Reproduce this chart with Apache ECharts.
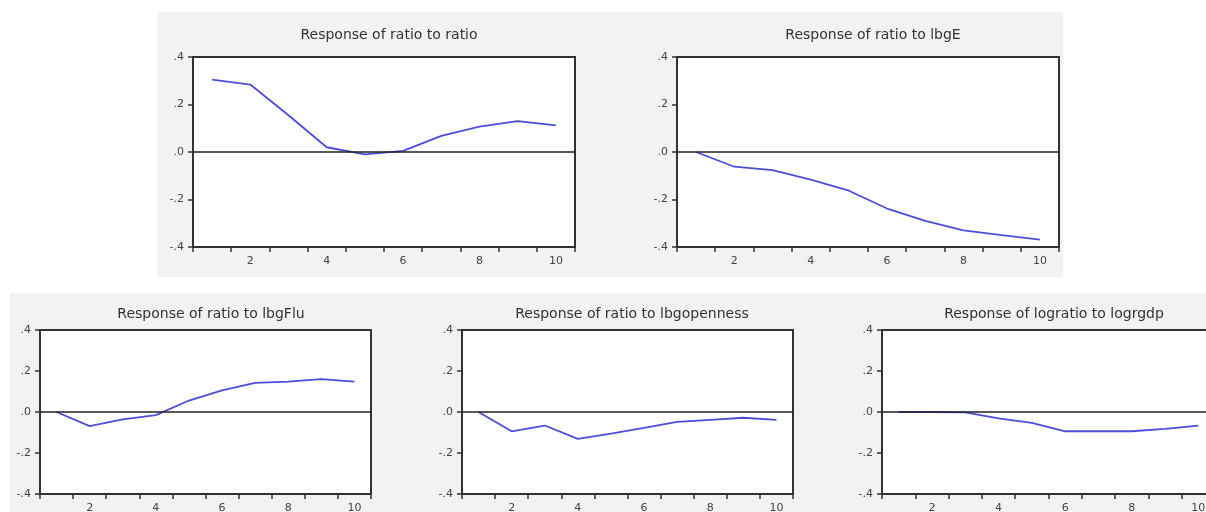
<!DOCTYPE html>
<html><head><meta charset="utf-8">
<script src="https://cdn.jsdelivr.net/npm/echarts@6/dist/echarts.min.js"></script>
<style>html,body{margin:0;padding:0;background:#fff}#c{width:1206px;height:512px}</style>
</head><body><div id="c"></div>
<script>
const periods = ['1','2','3','4','5','6','7','8','9','10'];
const xTickLabels = ['2','4','6','8','10'];
const yTickValues = [-0.4, -0.2, 0, 0.2, 0.4];
const yTickLabels = ['-.4', '-.2', '.0', '.2', '.4'];

const ratioToRatio       = [0.305, 0.284, 0.155, 0.02, -0.01, 0.005, 0.068, 0.107, 0.13, 0.112];
const ratioToLbgE        = [0, -0.062, -0.076, -0.116, -0.163, -0.238, -0.29, -0.33, -0.35, -0.369];
const ratioToLbgFlu      = [0, -0.069, -0.036, -0.015, 0.056, 0.105, 0.142, 0.148, 0.16, 0.148];
const ratioToLbgopenness = [0, -0.094, -0.066, -0.131, -0.105, -0.077, -0.048, -0.038, -0.028, -0.038];
const logratioToLogrgdp  = [0, 0, -0.002, -0.031, -0.053, -0.094, -0.094, -0.094, -0.082, -0.066];

const panelTitles = [
  'Response of ratio to ratio',
  'Response of ratio to lbgE',
  'Response of ratio to lbgFlu',
  'Response of ratio to lbgopenness',
  'Response of logratio to logrgdp'
];
const panelSeries = [ratioToRatio, ratioToLbgE, ratioToLbgFlu, ratioToLbgopenness, logratioToLogrgdp];

const layout = [
  {left:193, top:57,  width:382, height:190, titleY:32, cx:384},
  {left:677, top:57,  width:382, height:190, titleY:32, cx:868},
  {left:40,  top:330, width:331, height:164, titleY:311, cx:206},
  {left:462, top:330, width:331, height:164, titleY:311, cx:627},
  {left:882, top:330, width:333, height:164, titleY:311, cx:1049}
];

const FONT = 'DejaVu Sans';
const AX = '#333';
const grids = [], xAxes = [], yAxes = [], series = [], titles = [];
layout.forEach((p, i) => {
  grids.push({left:p.left, top:p.top, width:p.width, height:p.height, show:true,
    outerBoundsMode:'none', containLabel:false,
    backgroundColor:'#ffffff', borderColor:AX, borderWidth:2});
  xAxes.push({gridIndex:i, type:'category', data:periods, boundaryGap:true,
    axisLine:{show:true, onZero:false, lineStyle:{color:AX, width:2}},
    axisTick:{show:true, interval:0, length:5, lineStyle:{color:AX, width:1.5}},
    axisLabel:{interval:0, margin:9, color:'#444', fontSize:11, fontFamily:FONT,
      formatter: v => xTickLabels.includes(v) ? v : ''},
    splitLine:{show:false}});
  yAxes.push({gridIndex:i, type:'value', min:-0.4, max:0.4, interval:0.2,
    axisLine:{show:true, onZero:false, lineStyle:{color:AX, width:2}},
    axisTick:{show:true, length:5, lineStyle:{color:AX, width:1.5}},
    axisLabel:{margin:9, color:'#444', fontSize:11, fontFamily:FONT,
      formatter: v => { const k = yTickValues.findIndex(t => Math.abs(t - v) < 1e-9); return k >= 0 ? yTickLabels[k] : ''; }},
    splitLine:{show:false}});
  series.push({type:'line', xAxisIndex:i, yAxisIndex:i, data:panelSeries[i], symbol:'none',
    lineStyle:{color:'#4d4ddb', width:1.8}, z:3,
    markLine:{silent:true, symbol:'none', label:{show:false}, animation:false,
      lineStyle:{color:'#222', width:1.5, type:'solid'}, data:[{yAxis:0}]}});
  titles.push({text:panelTitles[i], left:p.cx, top:p.titleY - 9, textAlign:'center',
    textStyle:{fontFamily:FONT, fontSize:14, fontWeight:'normal', color:'#333'}});
});

const chart = echarts.init(document.getElementById('c'), null, {renderer:'canvas'});
chart.setOption({
  animation:false,
  backgroundColor:'#ffffff',
  graphic:[
    {type:'rect', z:-100, silent:true, shape:{x:157, y:12, width:906, height:265}, style:{fill:'#f2f2f2'}},
    {type:'rect', z:-100, silent:true, shape:{x:10, y:293, width:1196, height:219}, style:{fill:'#f2f2f2'}}
  ],
  title:titles, grid:grids, xAxis:xAxes, yAxis:yAxes, series:series
});
</script></body></html>
